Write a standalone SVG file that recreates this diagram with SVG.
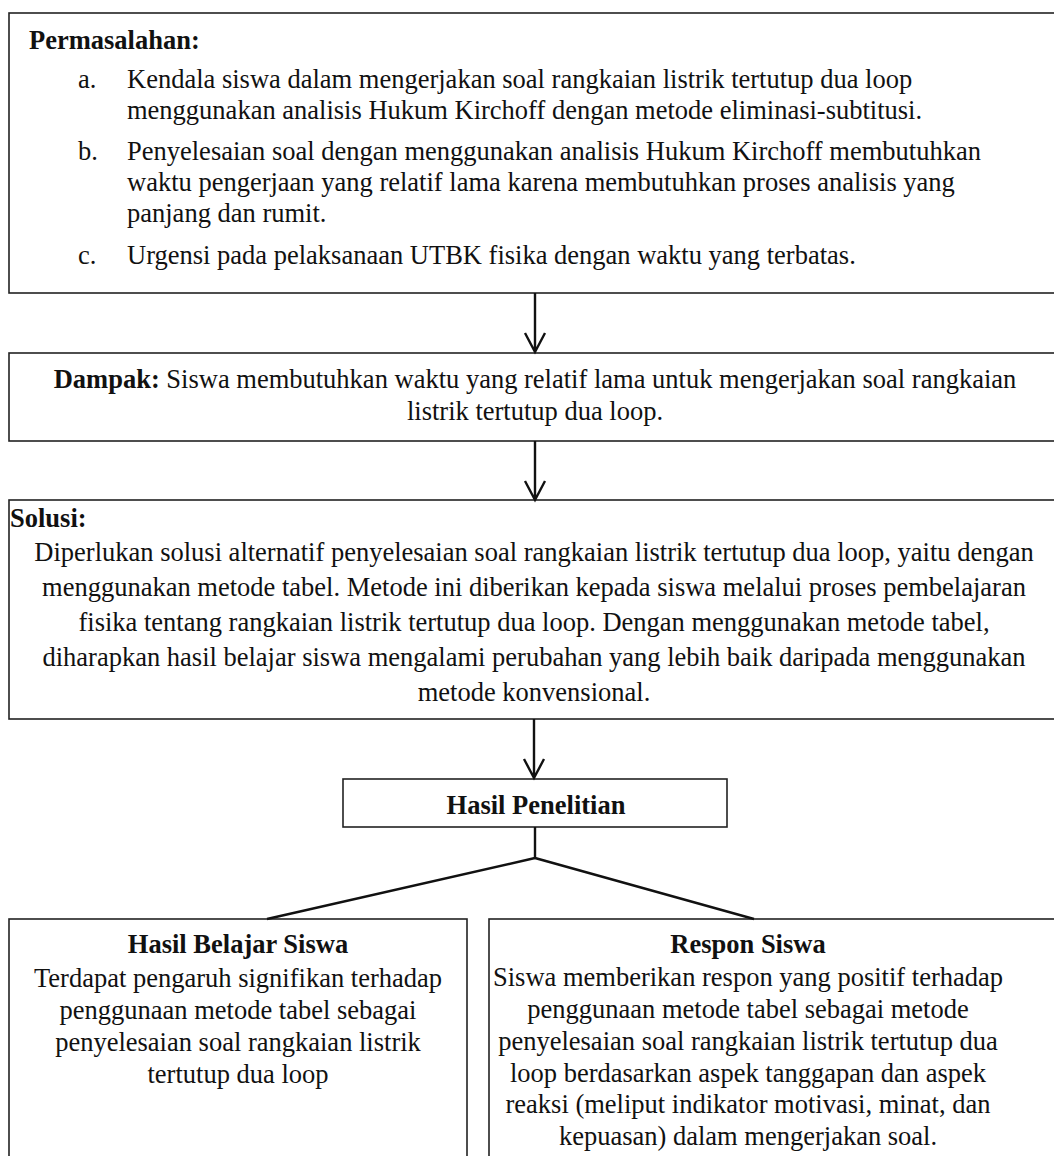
<svg xmlns="http://www.w3.org/2000/svg" width="1054" height="1156" viewBox="0 0 1054 1156">
<style>
.box{fill:#fff;stroke:#222;stroke-width:1.6}
text{font-family:"Liberation Serif","Times New Roman",serif;font-size:26.5px;fill:#111}
.b{font-weight:bold}
.c{text-anchor:middle}
.ln{stroke:#111;stroke-width:2.4;fill:none}
</style>
<rect width="1054" height="1156" fill="#fff"/>
<g id="permasalahan">
<rect class="box" x="9" y="13" width="1060" height="280"/>
<text class="b" x="29" y="49">Permasalahan:</text>
<text x="78" y="88">a.</text>
<text x="127" y="88">Kendala siswa dalam mengerjakan soal rangkaian listrik tertutup dua loop</text>
<text x="127" y="119">menggunakan analisis Hukum Kirchoff dengan metode eliminasi-subtitusi.</text>
<text x="78" y="160">b.</text>
<text x="127" y="160">Penyelesaian soal dengan menggunakan analisis Hukum Kirchoff membutuhkan</text>
<text x="127" y="191">waktu pengerjaan yang relatif lama karena membutuhkan proses analisis yang</text>
<text x="127" y="222">panjang dan rumit.</text>
<text x="78" y="264">c.</text>
<text x="127" y="264">Urgensi pada pelaksanaan UTBK fisika dengan waktu yang terbatas.</text>
</g>
<g id="dampak">
<rect class="box" x="9" y="353" width="1060" height="88"/>
<text class="c" x="535" y="388"><tspan class="b">Dampak:</tspan> Siswa membutuhkan waktu yang relatif lama untuk mengerjakan soal rangkaian</text>
<text class="c" x="535" y="420">listrik tertutup dua loop.</text>
</g>
<g id="solusi">
<rect class="box" x="9" y="500" width="1060" height="219"/>
<text class="b" x="10" y="527">Solusi:</text>
<text class="c" x="534" y="561">Diperlukan solusi alternatif penyelesaian soal rangkaian listrik tertutup dua loop, yaitu dengan</text>
<text class="c" x="534" y="596">menggunakan metode tabel. Metode ini diberikan kepada siswa melalui proses pembelajaran</text>
<text class="c" x="534" y="631">fisika tentang rangkaian listrik tertutup dua loop. Dengan menggunakan metode tabel,</text>
<text class="c" x="534" y="666">diharapkan hasil belajar siswa mengalami perubahan yang lebih baik daripada menggunakan</text>
<text class="c" x="534" y="701">metode konvensional.</text>
</g>
<g id="hasil-penelitian">
<rect class="box" x="343" y="779" width="384" height="48"/>
<text class="c b" x="536" y="814">Hasil Penelitian</text>
</g>
<g id="hasil-belajar">
<rect class="box" x="9" y="919" width="458" height="260"/>
<text class="c b" x="238" y="953">Hasil Belajar Siswa</text>
<text class="c" x="238" y="987">Terdapat pengaruh signifikan terhadap</text>
<text class="c" x="238" y="1019">penggunaan metode tabel sebagai</text>
<text class="c" x="238" y="1051">penyelesaian soal rangkaian listrik</text>
<text class="c" x="238" y="1083">tertutup dua loop</text>
</g>
<g id="respon-siswa">
<rect class="box" x="489" y="919" width="580" height="260"/>
<text class="c b" x="748" y="953">Respon Siswa</text>
<text class="c" x="748" y="986">Siswa memberikan respon yang positif terhadap</text>
<text class="c" x="748" y="1018">penggunaan metode tabel sebagai metode</text>
<text class="c" x="748" y="1050">penyelesaian soal rangkaian listrik tertutup dua</text>
<text class="c" x="748" y="1082">loop berdasarkan aspek tanggapan dan aspek</text>
<text class="c" x="748" y="1113">reaksi (meliput indikator motivasi, minat, dan</text>
<text class="c" x="748" y="1145">kepuasan) dalam mengerjakan soal.</text>
</g>
<g id="connectors">
<path class="ln" d="M535 293V352M525 333L535 352L545 333"/>
<path class="ln" d="M535 441V500M525 481L535 500L545 481"/>
<path class="ln" d="M534 719V778M524 759L534 778L544 759"/>
<path class="ln" d="M535 827V858M535 858L267 919M535 858L754 919"/>
</g>
</svg>
